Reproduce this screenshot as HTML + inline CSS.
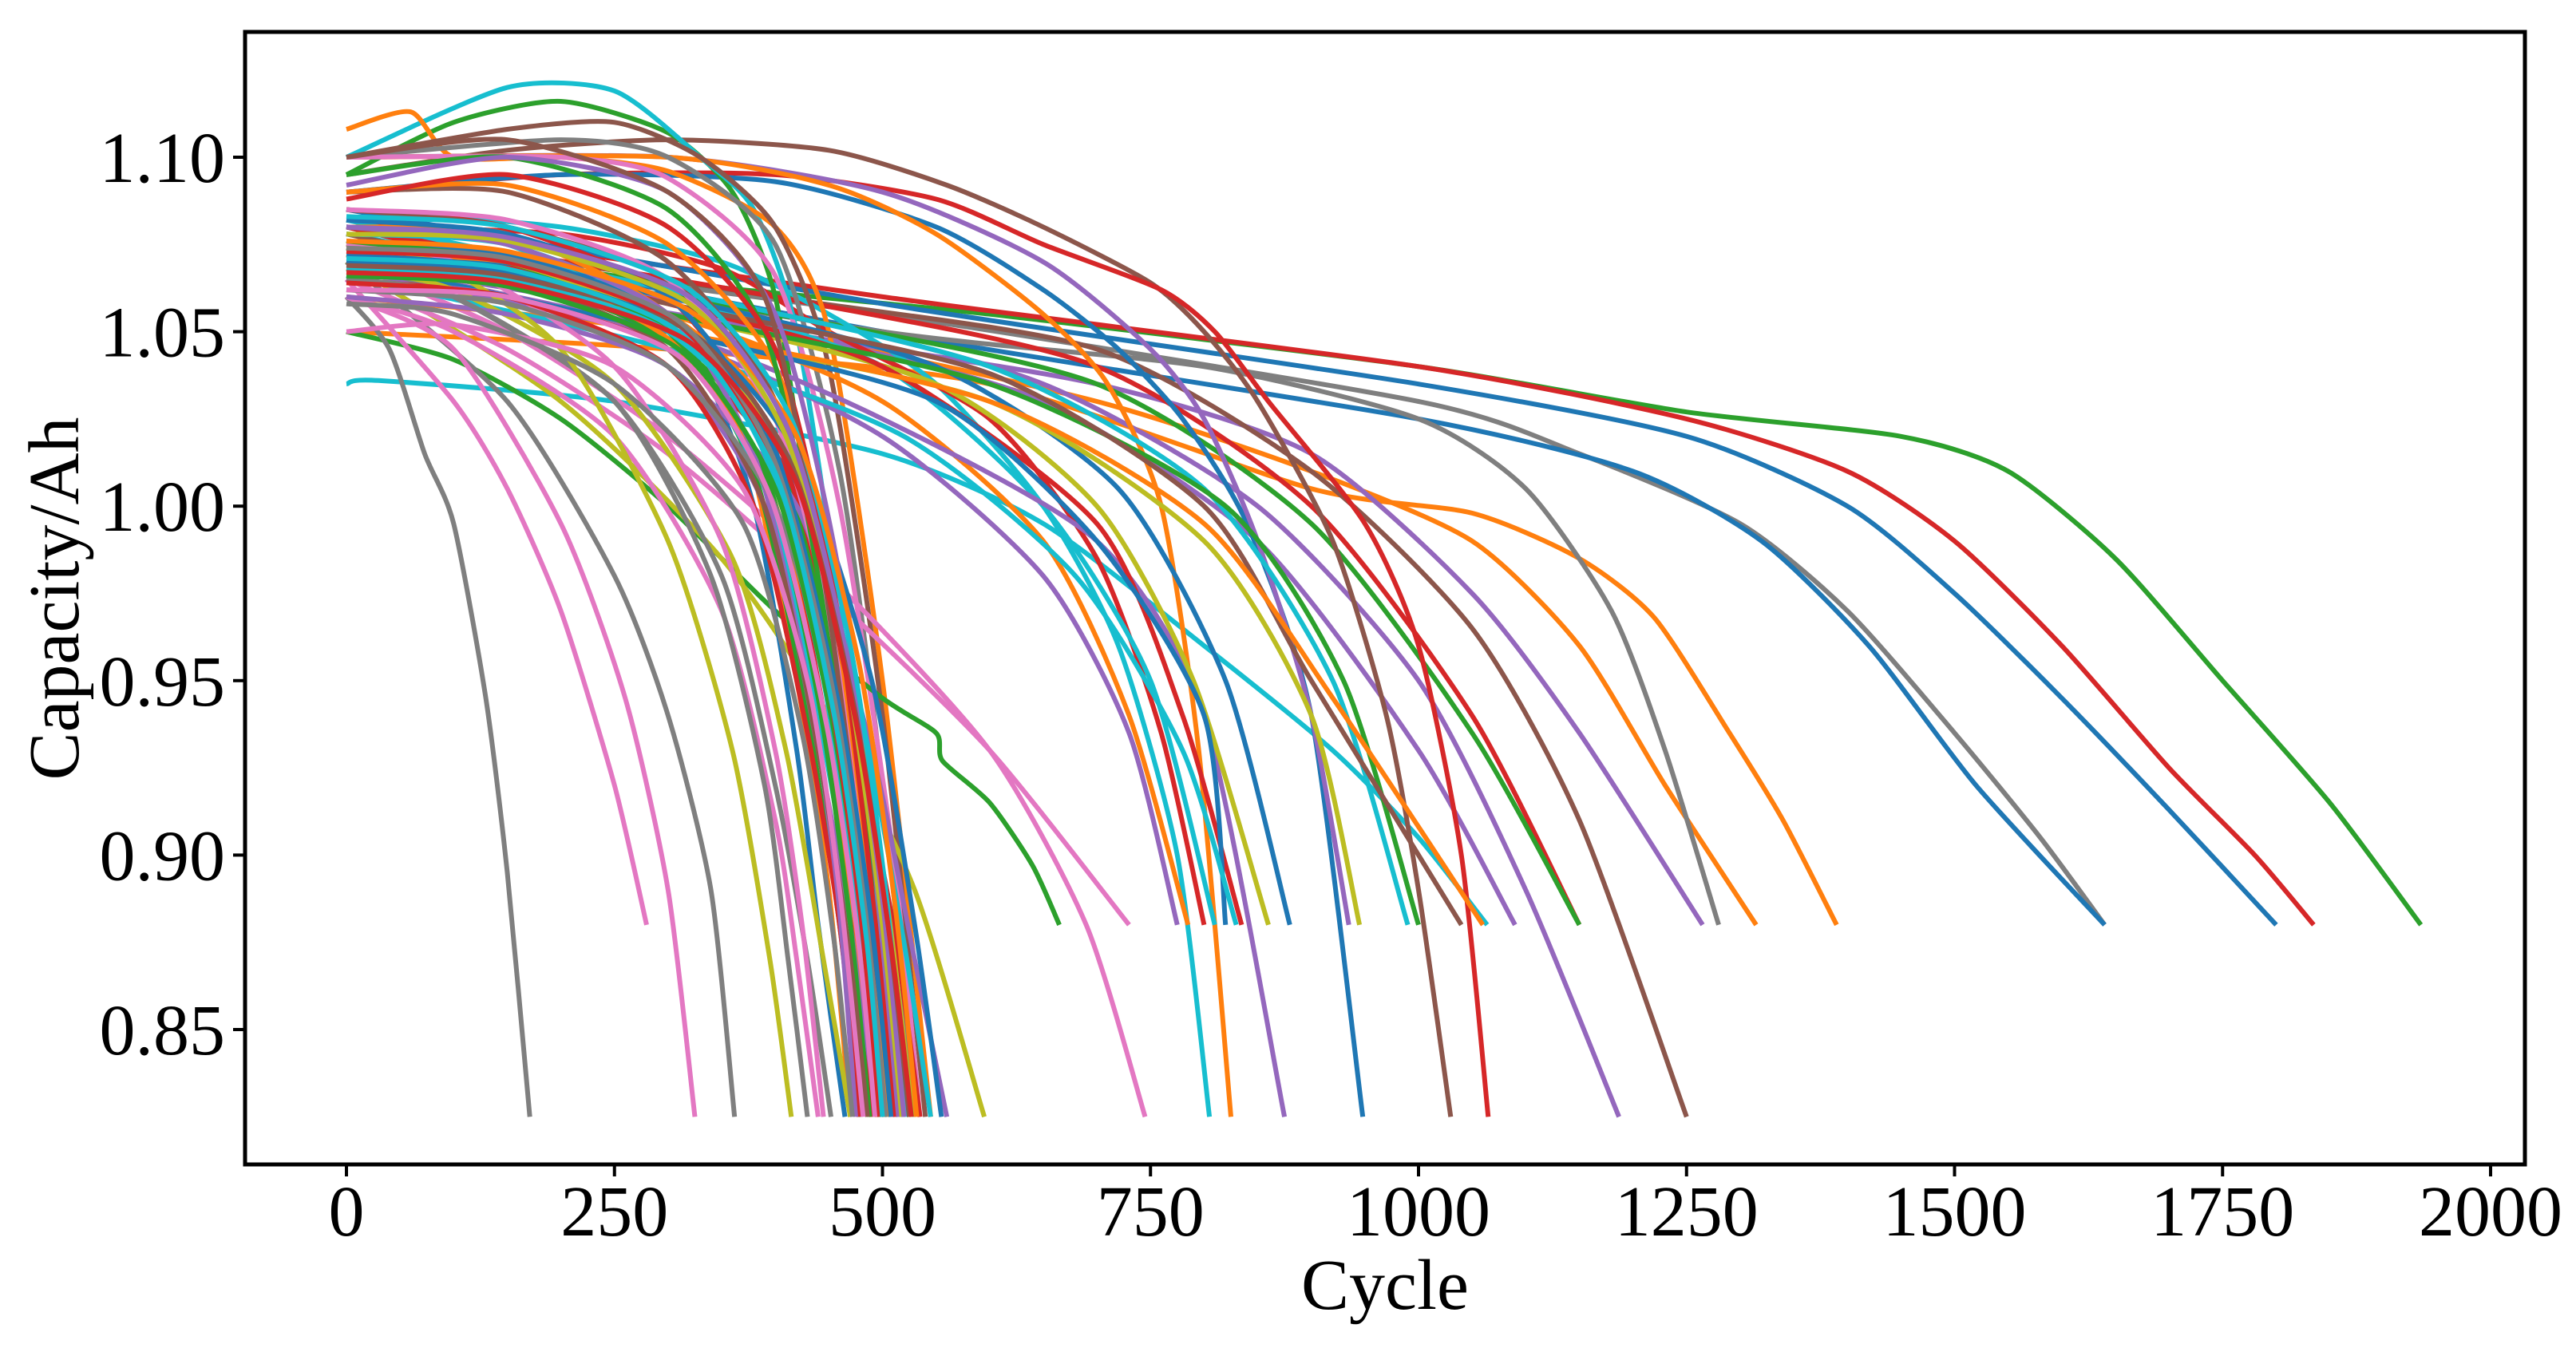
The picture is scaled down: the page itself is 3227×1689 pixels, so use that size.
<!DOCTYPE html>
<html><head><meta charset="utf-8">
<style>
html,body{margin:0;padding:0;background:#fff;}
svg{display:block;}
text{font-family:"Liberation Serif","DejaVu Serif",serif;fill:#000;}
</style></head>
<body>
<svg id="chart" width="3227" height="1689" viewBox="0 0 3227 1689" xmlns="http://www.w3.org/2000/svg">
<g id="series"></g>
<rect x="307" y="40" width="2856" height="1419" fill="none" stroke="#000" stroke-width="5"/>
<g id="xticks"></g>
<g id="yticks"></g>
<text x="1735" y="1640" font-size="90" text-anchor="middle">Cycle</text>
<text x="98" y="750" font-size="90" text-anchor="middle" transform="rotate(-90 98 750)">Capacity/Ah</text>
</svg>
<script>
const xTickValues = [0,250,500,750,1000,1250,1500,1750,2000];
const yTickValues = [0.85,0.90,0.95,1.00,1.05,1.10];
const yTickLabels = ["0.85","0.90","0.95","1.00","1.05","1.10"];
const seriesColors = [
"#2ca02c","#d62728","#1f77b4","#7f7f7f","#1f77b4","#ff7f0e","#ff7f0e","#7f7f7f","#9467bd","#8c564b",
"#9467bd","#d62728","#2ca02c","#9467bd","#17becf","#8c564b","#d62728","#1f77b4","#9467bd","#ff7f0e",
"#17becf","#d62728","#2ca02c","#17becf","#ff7f0e","#8c564b","#7f7f7f","#e377c2","#2ca02c","#7f7f7f",
"#e377c2","#7f7f7f","#e377c2","#bcbd22","#e377c2","#e377c2","#17becf","#ff7f0e","#9467bd","#bcbd22",
"#1f77b4","#d62728","#bcbd22","#17becf","#2ca02c","#8c564b","#ff7f0e","#1f77b4","#9467bd","#17becf",
"#1f77b4","#ff7f0e","#2ca02c","#d62728","#9467bd","#8c564b","#e377c2","#7f7f7f","#bcbd22","#17becf",
"#1f77b4","#ff7f0e","#2ca02c","#d62728","#9467bd","#8c564b","#e377c2","#7f7f7f","#bcbd22","#17becf",
"#1f77b4","#ff7f0e","#2ca02c","#d62728","#9467bd","#8c564b","#e377c2","#7f7f7f","#bcbd22","#17becf",
"#1f77b4","#ff7f0e","#2ca02c","#d62728","#9467bd","#8c564b","#e377c2","#7f7f7f",
"#bcbd22","#17becf","#1f77b4","#ff7f0e","#2ca02c","#d62728","#9467bd","#8c564b","#e377c2","#7f7f7f","#17becf","#d62728"
];
const seriesPoints = [
[[0,1.08],[250,1.066],[600,1.055],[1000,1.04],[1250,1.027],[1450,1.02],[1550,1.01],[1650,0.985],[1750,0.95],[1850,0.915],[1935,0.88]],
[[0,1.082],[500,1.06],[1000,1.04],[1250,1.025],[1400,1.01],[1500,0.99],[1600,0.96],[1700,0.925],[1780,0.9],[1835,0.88]],
[[0,1.085],[500,1.058],[1000,1.035],[1250,1.02],[1400,1.0],[1500,0.975],[1600,0.945],[1700,0.913],[1800,0.88]],
[[0,1.075],[500,1.055],[1000,1.03],[1150,1.015],[1300,0.995],[1400,0.97],[1500,0.935],[1580,0.905],[1640,0.88]],
[[0,1.08],[500,1.05],[1000,1.025],[1200,1.01],[1320,0.99],[1420,0.96],[1520,0.92],[1640,0.88]],
[[0,1.05],[300,1.045],[600,1.035],[900,1.005],[1050,0.998],[1150,0.985],[1220,0.968],[1290,0.935],[1340,0.91],[1390,0.88]],
[[0,1.07],[400,1.05],[700,1.03],[900,1.01],[1050,0.99],[1150,0.96],[1230,0.92],[1315,0.88]],
[[0,1.075],[500,1.05],[800,1.04],[1000,1.025],[1100,1.005],[1180,0.97],[1230,0.93],[1280,0.88]],
[[0,1.07],[400,1.05],[700,1.035],[900,1.015],[1050,0.975],[1150,0.935],[1265,0.88]],
[[0,1.08],[400,1.06],[700,1.045],[900,1.01],[1050,0.965],[1150,0.91],[1250,0.825]],
[[0,1.07],[400,1.055],[650,1.035],[850,1.0],[1000,0.95],[1100,0.89],[1187,0.825]],
[[0,1.08],[400,1.06],[700,1.04],[900,1.0],[1050,0.94],[1150,0.88]],
[[0,1.075],[400,1.055],[700,1.035],[900,0.995],[1050,0.935],[1150,0.88]],
[[0,1.07],[400,1.05],[650,1.03],[850,0.99],[1000,0.93],[1090,0.88]],
[[0,1.035],[30,1.036],[250,1.03],[500,1.015],[650,0.995],[800,0.96],[920,0.93],[1000,0.905],[1064,0.88]],
[[0,1.095],[150,1.102],[300,1.105],[450,1.102],[560,1.092],[650,1.08],[750,1.064],[800,1.05],[850,1.03],[920,0.99],[970,0.94],[1000,0.89],[1030,0.825]],
[[0,1.09],[200,1.095],[400,1.095],[550,1.088],[650,1.075],[760,1.062],[810,1.05],[860,1.03],[950,0.995],[1000,0.96],[1040,0.9],[1065,0.825]],
[[0,1.09],[200,1.095],[400,1.093],[550,1.08],[650,1.062],[720,1.045],[780,1.025],[840,0.995],[900,0.94],[948,0.825]],
[[0,1.1],[300,1.1],[500,1.09],[650,1.07],[750,1.045],[800,1.025],[850,0.99],[900,0.94],[935,0.88]],
[[0,1.1],[300,1.1],[450,1.092],[550,1.078],[650,1.055],[710,1.035],[760,1.0],[795,0.93],[825,0.825]],
[[0,1.085],[200,1.08],[350,1.07],[450,1.055],[550,1.035],[650,1.0],[720,0.96],[775,0.9],[805,0.825]],
[[0,1.08],[200,1.078],[350,1.068],[450,1.05],[600,1.025],[700,0.985],[760,0.935],[800,0.88]],
[[0,1.095],[100,1.11],[200,1.116],[300,1.107],[360,1.09],[400,1.06],[430,1.0],[460,0.92],[490,0.825]],
[[0,1.1],[150,1.12],[250,1.119],[330,1.1],[380,1.085],[420,1.05],[460,0.97],[495,0.88],[518,0.825]],
[[0,1.108],[60,1.113],[100,1.1],[200,1.1],[300,1.096],[400,1.08],[450,1.05],[500,0.95],[545,0.825]],
[[0,1.1],[150,1.108],[250,1.11],[330,1.1],[400,1.08],[450,1.04],[500,0.94],[540,0.825]],
[[0,1.1],[200,1.105],[300,1.1],[400,1.075],[460,1.01],[500,0.92],[530,0.825]],
[[0,1.1],[200,1.1],[300,1.094],[400,1.066],[460,1.0],[510,0.9],[535,0.825]],
[[0,1.05],[100,1.042],[200,1.025],[300,1.0],[400,0.97],[500,0.945],[550,0.935],[556,0.927],[600,0.915],[640,0.897],[665,0.88]],
[[0,1.06],[40,1.045],[73,1.015],[100,0.995],[130,0.945],[150,0.895],[171,0.825]],
[[0,1.065],[100,1.03],[150,1.005],[200,0.97],[250,0.92],[280,0.88]],
[[0,1.07],[150,1.03],[250,0.98],[300,0.94],[340,0.89],[362,0.825]],
[[0,1.06],[100,1.045],[200,0.995],[260,0.945],[300,0.89],[325,0.825]],
[[0,1.07],[200,1.03],[350,0.985],[450,0.94],[530,0.89],[595,0.825]],
[[0,1.07],[150,1.05],[300,1.02],[450,0.98],[600,0.93],[690,0.88],[745,0.825]],
[[0,1.065],[150,1.045],[300,1.015],[450,0.975],[600,0.93],[730,0.88]],
[[0,1.078],[300,1.06],[500,1.04],[650,1.0],[750,0.95],[810,0.88]],
[[0,1.075],[300,1.055],[500,1.03],[650,0.99],[730,0.94],[785,0.88]],
[[0,1.07],[300,1.05],[500,1.025],[700,0.99],[800,0.94],[875,0.825]],
[[0,1.072],[300,1.055],[550,1.035],[700,1.0],[790,0.95],[860,0.88]],
[[0,1.076],[300,1.06],[550,1.04],[720,1.005],[820,0.95],[880,0.88]],
[[0,1.08],[300,1.058],[500,1.04],[700,0.995],[780,0.94],[835,0.88]],
[[0,1.07],[300,1.05],[600,1.03],[800,0.99],[900,0.94],[945,0.88]],
[[0,1.082],[300,1.062],[600,1.04],[800,1.005],[920,0.95],[990,0.88]],
[[0,1.074],[300,1.055],[600,1.035],[820,1.0],[930,0.95],[1000,0.88]],
[[0,1.078],[300,1.058],[600,1.038],[800,1.0],[900,0.95],[1040,0.88]],
[[0,1.06],[300,1.05],[600,1.03],[800,0.995],[920,0.945],[1060,0.88]],
[[0,1.07],[300,1.05],[550,1.03],[700,0.99],[800,0.94],[820,0.88]],
[[0,1.068],[300,1.048],[500,1.02],[650,0.98],[730,0.935],[775,0.88]],
[[0,1.066],[300,1.045],[520,1.02],[680,0.98],[780,0.93],[830,0.88]],
[[0,1.07],[200,1.068],[320,1.045],[380,1.0],[420,0.93],[440,0.88],[465,0.825]],
[[0,1.08],[150,1.078],[300,1.055],[370,1.02],[420,0.95],[450,0.89],[470,0.825]],
[[0,1.075],[150,1.07],[300,1.05],[380,1.01],[430,0.94],[460,0.88],[480,0.825]],
[[0,1.085],[150,1.08],[300,1.06],[390,1.02],[440,0.95],[470,0.89],[490,0.825]],
[[0,1.065],[150,1.06],[300,1.04],[390,1.0],[440,0.93],[470,0.88],[495,0.825]],
[[0,1.09],[150,1.09],[300,1.07],[400,1.03],[450,0.96],[480,0.89],[500,0.825]],
[[0,1.06],[100,1.05],[250,1.02],[350,0.97],[400,0.91],[420,0.87],[440,0.825]],
[[0,1.07],[100,1.06],[250,1.03],[350,0.98],[400,0.92],[430,0.87],[452,0.825]],
[[0,1.068],[100,1.062],[250,1.035],[360,0.985],[410,0.93],[445,0.87],[470,0.825]],
[[0,1.08],[150,1.075],[300,1.05],[390,1.005],[440,0.94],[475,0.88],[505,0.825]],
[[0,1.075],[150,1.072],[300,1.055],[400,1.02],[450,0.96],[485,0.89],[512,0.825]],
[[0,1.072],[150,1.07],[300,1.055],[400,1.025],[460,0.96],[495,0.89],[520,0.825]],
[[0,1.07],[150,1.066],[300,1.048],[400,1.015],[460,0.95],[500,0.88],[525,0.825]],
[[0,1.065],[150,1.06],[300,1.045],[410,1.01],[470,0.94],[510,0.88],[535,0.825]],
[[0,1.06],[150,1.055],[300,1.04],[420,1.0],[490,0.93],[530,0.87],[560,0.825]],
[[0,1.085],[150,1.08],[300,1.065],[400,1.03],[450,0.97],[480,0.9],[500,0.825]],
[[0,1.075],[100,1.07],[250,1.04],[350,0.99],[400,0.93],[425,0.88],[445,0.825]],
[[0,1.065],[100,1.06],[250,1.03],[340,0.98],[390,0.92],[412,0.87],[430,0.825]],
[[0,1.072],[80,1.07],[200,1.045],[300,0.99],[360,0.93],[395,0.87],[415,0.825]],
[[0,1.078],[150,1.075],[300,1.055],[390,1.015],[445,0.95],[478,0.88],[500,0.825]],
[[0,1.082],[150,1.078],[300,1.06],[395,1.02],[450,0.955],[485,0.885],[508,0.825]],
[[0,1.07],[150,1.068],[300,1.048],[395,1.005],[445,0.94],[475,0.88],[495,0.825]],
[[0,1.076],[150,1.07],[300,1.05],[390,1.01],[440,0.945],[470,0.88],[488,0.825]],
[[0,1.064],[150,1.06],[300,1.04],[380,1.0],[430,0.935],[460,0.88],[478,0.825]],
[[0,1.08],[150,1.075],[300,1.055],[380,1.015],[430,0.95],[458,0.89],[475,0.825]],
[[0,1.07],[150,1.065],[300,1.045],[390,1.0],[440,0.93],[470,0.87],[486,0.825]],
[[0,1.085],[150,1.082],[300,1.065],[400,1.025],[455,0.96],[488,0.89],[510,0.825]],
[[0,1.062],[150,1.058],[300,1.04],[400,1.0],[460,0.935],[495,0.87],[515,0.825]],
[[0,1.074],[150,1.07],[300,1.052],[410,1.015],[470,0.95],[505,0.885],[528,0.825]],
[[0,1.068],[150,1.065],[300,1.05],[420,1.01],[480,0.94],[520,0.875],[545,0.825]],
[[0,1.072],[150,1.068],[320,1.05],[420,1.015],[490,0.95],[530,0.88],[555,0.825]],
[[0,1.09],[150,1.092],[300,1.075],[400,1.04],[450,0.98],[485,0.9],[505,0.825]],
[[0,1.095],[150,1.1],[300,1.085],[390,1.05],[440,0.98],[475,0.9],[498,0.825]],
[[0,1.088],[150,1.095],[300,1.08],[400,1.045],[455,0.975],[490,0.89],[512,0.825]],
[[0,1.092],[150,1.1],[300,1.09],[400,1.055],[460,0.98],[495,0.89],[515,0.825]],
[[0,1.1],[150,1.105],[300,1.09],[390,1.06],[440,0.99],[480,0.9],[502,0.825]],
[[0,1.05],[100,1.052],[250,1.04],[370,1.005],[430,0.95],[460,0.89],[482,0.825]],
[[0,1.058],[100,1.055],[250,1.035],[370,0.995],[425,0.935],[455,0.875],[472,0.825]],
[[0,1.078],[150,1.076],[320,1.058],[410,1.02],[465,0.955],[498,0.885],[518,0.825]],
[[0,1.083],[150,1.08],[320,1.062],[415,1.025],[470,0.96],[503,0.89],[522,0.825]],
[[0,1.07],[150,1.067],[320,1.05],[405,1.01],[458,0.945],[490,0.88],[508,0.825]],
[[0,1.076],[150,1.073],[320,1.056],[420,1.02],[478,0.955],[512,0.885],[532,0.825]],
[[0,1.066],[150,1.063],[310,1.045],[400,1.005],[452,0.94],[484,0.875],[502,0.825]],
[[0,1.073],[150,1.07],[310,1.052],[400,1.012],[450,0.948],[480,0.882],[497,0.825]],
[[0,1.08],[150,1.077],[320,1.06],[412,1.022],[466,0.958],[500,0.887],[520,0.825]],
[[0,1.069],[150,1.066],[320,1.05],[415,1.012],[472,0.945],[506,0.878],[525,0.825]],
[[0,1.062],[150,1.06],[310,1.043],[395,1.003],[448,0.937],[478,0.874],[493,0.825]],
[[0,1.074],[150,1.071],[310,1.053],[398,1.014],[452,0.95],[484,0.884],[503,0.825]],
[[0,1.071],[150,1.068],[310,1.05],[402,1.008],[455,0.94],[485,0.876],[500,0.825]],
[[0,1.067],[150,1.064],[320,1.047],[418,1.008],[474,0.94],[508,0.874],[527,0.825]]
];
const NS = "http://www.w3.org/2000/svg";
const X0 = 434, XS = 1.343, Y0 = 197, YS = 4372;
function xScale(c){ return X0 + c*XS; }
function yScale(v){ return Y0 + (1.10 - v)*YS; }
function pathFor(pts){
  const P = pts.map(p=>[xScale(p[0]), yScale(p[1])]);
  let d = "M"+P[0][0].toFixed(1)+","+P[0][1].toFixed(1);
  for(let i=0;i<P.length-1;i++){
    const p0=P[Math.max(0,i-1)], p1=P[i], p2=P[i+1], p3=P[Math.min(P.length-1,i+2)];
    const t=0.12;
    const c1x=p1[0]+(p2[0]-p0[0])*t, c1y=p1[1]+(p2[1]-p0[1])*t;
    const c2x=p2[0]-(p3[0]-p1[0])*t, c2y=p2[1]-(p3[1]-p1[1])*t;
    d+=" C"+c1x.toFixed(1)+","+c1y.toFixed(1)+" "+c2x.toFixed(1)+","+c2y.toFixed(1)+" "+p2[0].toFixed(1)+","+p2[1].toFixed(1);
  }
  return d;
}
const gS = document.getElementById("series");
seriesPoints.forEach((pts,i)=>{
  const el = document.createElementNS(NS,"path");
  el.setAttribute("d", pathFor(pts));
  el.setAttribute("fill","none");
  el.setAttribute("stroke", seriesColors[i % seriesColors.length]);
  el.setAttribute("stroke-width","6");
  el.setAttribute("stroke-linejoin","round");
  
  
  gS.appendChild(el);
});
const gX = document.getElementById("xticks");
xTickValues.forEach(v=>{
  const x = xScale(v);
  const ln = document.createElementNS(NS,"line");
  ln.setAttribute("x1",x); ln.setAttribute("x2",x);
  ln.setAttribute("y1",1459); ln.setAttribute("y2",1474);
  ln.setAttribute("stroke","#000"); ln.setAttribute("stroke-width","4");
  
  
  gX.appendChild(ln);
  const t = document.createElementNS(NS,"text");
  t.setAttribute("x",x); t.setAttribute("y",1548);
  t.setAttribute("font-size","90"); t.setAttribute("text-anchor","middle");
  t.textContent = String(v);
  
  
  gX.appendChild(t);
});
const gY = document.getElementById("yticks");
yTickValues.forEach((v,i)=>{
  const y = yScale(v);
  const ln = document.createElementNS(NS,"line");
  ln.setAttribute("x1",292); ln.setAttribute("x2",307);
  ln.setAttribute("y1",y); ln.setAttribute("y2",y);
  ln.setAttribute("stroke","#000"); ln.setAttribute("stroke-width","4");
  
  
  gY.appendChild(ln);
  const t = document.createElementNS(NS,"text");
  t.setAttribute("x",282); t.setAttribute("y",y+31);
  t.setAttribute("font-size","90"); t.setAttribute("text-anchor","end");
  t.textContent = yTickLabels[i];
  
  
  gY.appendChild(t);
});
</script>
</body></html>
